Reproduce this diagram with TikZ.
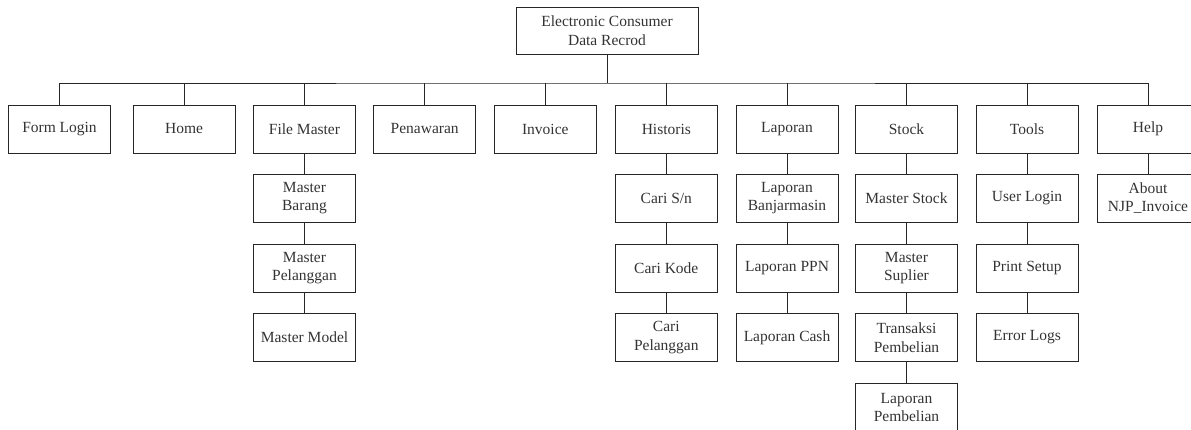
\documentclass[tikz,border=0pt]{standalone}
\usepackage{fontspec}
\setmainfont{Liberation Serif}
\begin{document}
\begin{tikzpicture}[x=1pt,y=-1pt,
  menubox/.style={draw=black!85, line width=0.9pt, minimum width=102pt, minimum height=48pt,
    inner sep=0pt, align=center, text=black!80, font=\fontsize{15.5}{18.5}\selectfont},
  conn/.style={draw=black!85, line width=0.9pt}]
\useasboundingbox (0,0) rectangle (1191,430);
\node[menubox, minimum width=182pt, minimum height=47pt] (root) at (607,30.5) {Electronic Consumer\\Data Recrod};
\coordinate (bus) at (607,83);
% level 1
\def\ya{129}
\node[menubox] (form) at (59.5,\ya) {Form Login};
\node[menubox] (home) at (184,\ya) {Home};
\node[menubox] (file) at (304.5,\ya) {File Master};
\node[menubox] (pena) at (424.7,\ya) {Penawaran};
\node[menubox] (inv) at (545.3,\ya) {Invoice};
\node[menubox] (hist) at (666.3,\ya) {Historis};
\node[menubox] (lap) at (787,\ya) {Laporan};
\node[menubox] (stock) at (906.5,\ya) {Stock};
\node[menubox] (tools) at (1027,\ya) {Tools};
\node[menubox] (help) at (1148,\ya) {Help};
% level 2..5
\def\yb{198}\def\yc{268}\def\yd{337.5}\def\ye{407.5}
\node[menubox] (mbar) at (304.5,\yb) {Master\\Barang};
\node[menubox] (mpel) at (304.5,\yc) {Master\\Pelanggan};
\node[menubox] (mmod) at (304.5,\yd) {Master Model};
\node[menubox] (csn) at (666.3,\yb) {Cari S/n};
\node[menubox] (ckode) at (666.3,\yc) {Cari Kode};
\node[menubox] (cpel) at (666.3,\yd) {Cari\\Pelanggan};
\node[menubox] (lban) at (787,\yb) {Laporan\\Banjarmasin};
\node[menubox] (lppn) at (787,\yc) {Laporan PPN};
\node[menubox] (lcash) at (787,\yd) {Laporan Cash};
\node[menubox] (mst) at (906.5,\yb) {Master Stock};
\node[menubox] (msup) at (906.5,\yc) {Master\\Suplier};
\node[menubox] (tpem) at (906.5,\yd) {Transaksi\\Pembelian};
\node[menubox] (lpem) at (906.5,\ye) {Laporan\\Pembelian};
\node[menubox] (ulog) at (1027,\yb) {User Login};
\node[menubox] (pset) at (1027,\yc) {Print Setup};
\node[menubox] (elog) at (1027,\yd) {Error Logs};
\node[menubox] (about) at (1148,\yb) {About\\NJP\_Invoice};
% connectors
\draw[conn] (root.south) -- (bus);
\draw[conn] (form.north) |- (bus) -| (help.north);
\foreach \n in {home,file,pena,inv,hist,lap,stock,tools}
  \draw[conn] (\n.north) -- (\n.north |- bus);
\foreach \a/\b in {file/mbar,mbar/mpel,mpel/mmod,hist/csn,csn/ckode,ckode/cpel,
  lap/lban,lban/lppn,lppn/lcash,stock/mst,mst/msup,msup/tpem,tpem/lpem,
  tools/ulog,ulog/pset,pset/elog,help/about}
  \draw[conn] (\a.south) -- (\b.north);
\end{tikzpicture}
\end{document}
